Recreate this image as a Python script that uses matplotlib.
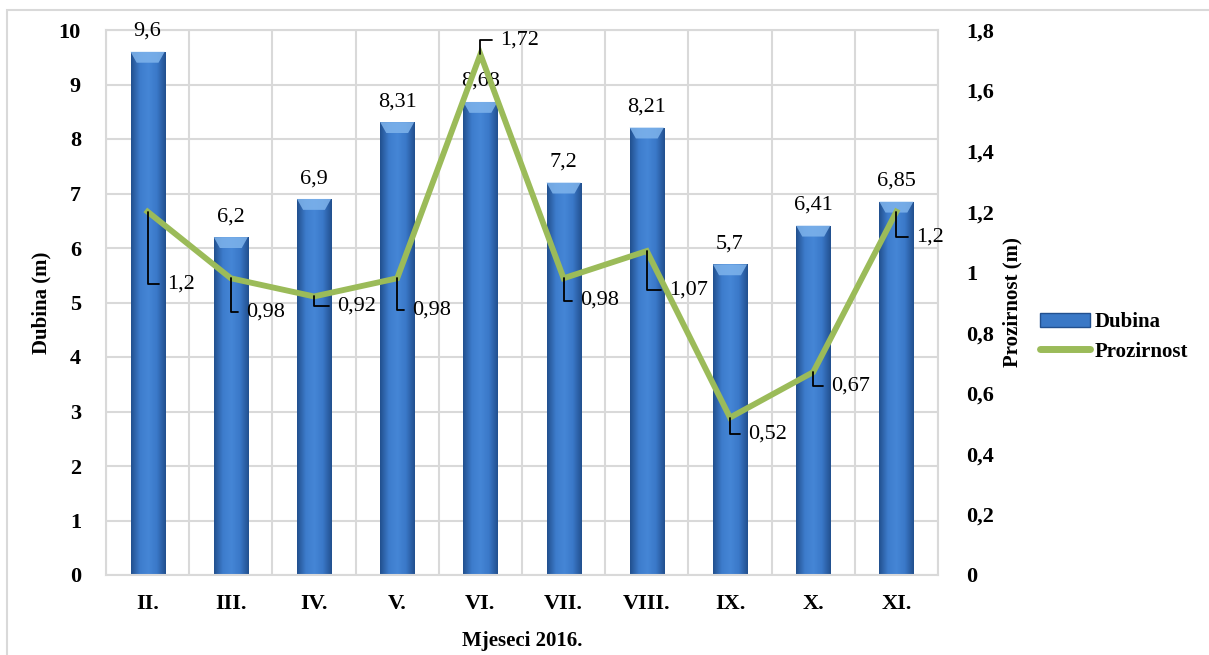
import numpy as np
import matplotlib.pyplot as plt
from matplotlib.colors import LinearSegmentedColormap
from matplotlib.patches import Rectangle, Polygon
from matplotlib.lines import Line2D

plt.rcParams['font.family'] = ['Liberation Serif', 'DejaVu Serif']

# ======================
# podaci
# ======================
mjeseci = ['II.', 'III.', 'IV.', 'V.', 'VI.', 'VII.', 'VIII.', 'IX.', 'X.', 'XI.']
dubina = [9.6, 6.2, 6.9, 8.31, 8.68, 7.2, 8.21, 5.7, 6.41, 6.85]
prozirnost = [1.2, 0.98, 0.92, 0.98, 1.72, 0.98, 1.07, 0.52, 0.67, 1.2]
dubina_txt = ['9,6', '6,2', '6,9', '8,31', '8,68', '7,2', '8,21', '5,7', '6,41', '6,85']
prozirnost_txt = ['1,2', '0,98', '0,92', '0,98', '1,72', '0,98', '1,07', '0,52', '0,67', '1,2']
# pomak oznaka (u tockama) za liniju prozirnosti
lbl_off = [(14, -52), (11, -24), (17, -7), (11, -23), (14, 10),
           (12, -16), (16, -28), (13, -12), (13, -10), (14, -18)]

BAR_MAIN = '#3a78c6'
BAR_DARK = '#22508f'
GREEN = '#9bbb59'
GRID = '#d9d9d9'

fig = plt.figure(figsize=(12.09, 6.55), dpi=100)
ax = fig.add_axes([106/1209, 1-575/655, (938-106)/1209, (575-30)/655])
ax2 = ax.twinx()

x = np.arange(len(mjeseci))
w = 0.41

# gradijent za stupce
cmap = LinearSegmentedColormap.from_list('bar', [BAR_DARK, '#3d7ccc', '#4586d6', '#3a78c8', BAR_DARK])
grad = np.linspace(0, 1, 64).reshape(1, -1)
bars = ax.bar(x, dubina, width=w, color=BAR_MAIN, zorder=2)
for i, b in enumerate(bars):
    v = dubina[i]
    x0 = b.get_x()
    im = ax.imshow(grad, cmap=cmap, aspect='auto', extent=[x0, x0 + w, 0, v], zorder=2.1)
    im.set_clip_path(b)
    # svjetliji gornji rub (kosina)
    bevel = Polygon([[x0, v], [x0 + w, v], [x0 + w*0.82, v - 0.2], [x0 + w*0.18, v - 0.2]],
                    closed=True, facecolor='#7fb4ec', edgecolor='none', alpha=0.85, zorder=2.2)
    ax.add_patch(bevel)
    ax.text(x[i], v + 0.2, dubina_txt[i], ha='center', va='bottom', fontsize=16, zorder=5)

ax.set_xlim(-0.5, len(mjeseci) - 0.5)
ax.set_ylim(0, 10)
ax.set_yticks(range(0, 11))
ax.set_xticks(x)
ax.set_xticklabels(mjeseci, fontsize=16, fontweight='bold')
for t in ax.get_yticklabels():
    t.set_fontsize(16)
    t.set_fontweight('bold')
ax.set_xticks(np.arange(-0.5, len(mjeseci)), minor=True)
ax.grid(True, axis='y', color=GRID, linewidth=1.5, zorder=0)
ax.grid(True, axis='x', which='minor', color=GRID, linewidth=1.5, zorder=0)
ax.tick_params(axis='both', which='both', length=0)
ax.tick_params(axis='x', pad=14)
ax.tick_params(axis='y', pad=18)
ax.set_axisbelow(True)
for s in ax.spines.values():
    s.set_color(GRID)
    s.set_linewidth(1.5)
ax.set_ylabel('Dubina (m)', fontsize=15, fontweight='bold')
ax.yaxis.set_label_coords(-0.066, 0.5)
ax.set_xlabel('Mjeseci 2016.', fontsize=15, fontweight='bold')
ax.xaxis.set_label_coords(0.5, -0.103)

# linija prozirnosti
ax2.plot(x, prozirnost, color=GREEN, linewidth=4.2, solid_joinstyle='miter', zorder=3)
ax2.set_ylim(0, 1.8)
ax2.set_yticks(np.arange(0, 1.81, 0.2))
ax2.set_yticklabels(['0', '0,2', '0,4', '0,6', '0,8', '1', '1,2', '1,4', '1,6', '1,8'],
                    fontsize=16, fontweight='bold')
ax2.tick_params(axis='y', length=0, pad=20)
for s in ax2.spines.values():
    s.set_visible(False)
ax2.set_ylabel('Prozirnost (m)', fontsize=15, fontweight='bold')
ax2.yaxis.set_label_coords(1.078, 0.5)

for xi, yi, t, (dx, dy) in zip(x, prozirnost, prozirnost_txt, lbl_off):
    ax2.annotate(t, xy=(xi, yi), xytext=(dx, dy), textcoords='offset points',
                 ha='left', va='center', fontsize=16, zorder=6,
                 arrowprops=dict(arrowstyle='-', color='black', lw=1.3, shrinkA=4, shrinkB=0,
                                 connectionstyle='angle,angleA=180,angleB=90,rad=0'))

# legenda
h1 = Rectangle((0, 0), 1, 1, facecolor=BAR_MAIN, edgecolor=BAR_DARK)
h2 = Line2D([], [], color=GREEN, linewidth=5, solid_capstyle='round')
fig.legend([h1, h2], ['Dubina', 'Prozirnost'], loc='center left',
           bbox_to_anchor=(1036/1209, 1-337/655), frameon=False,
           prop=dict(size=15, weight='bold'), handlelength=2.4, handletextpad=0.2,
           labelspacing=0.45, borderaxespad=0, borderpad=0.2)

# okvir grafikona
fig.patches.append(Rectangle((7/1209, -0.1), 1.2, 1-10/655 + 0.1, transform=fig.transFigure,
                             fill=False, edgecolor=GRID, linewidth=1.5))

fig.savefig('out.png', dpi=100)
